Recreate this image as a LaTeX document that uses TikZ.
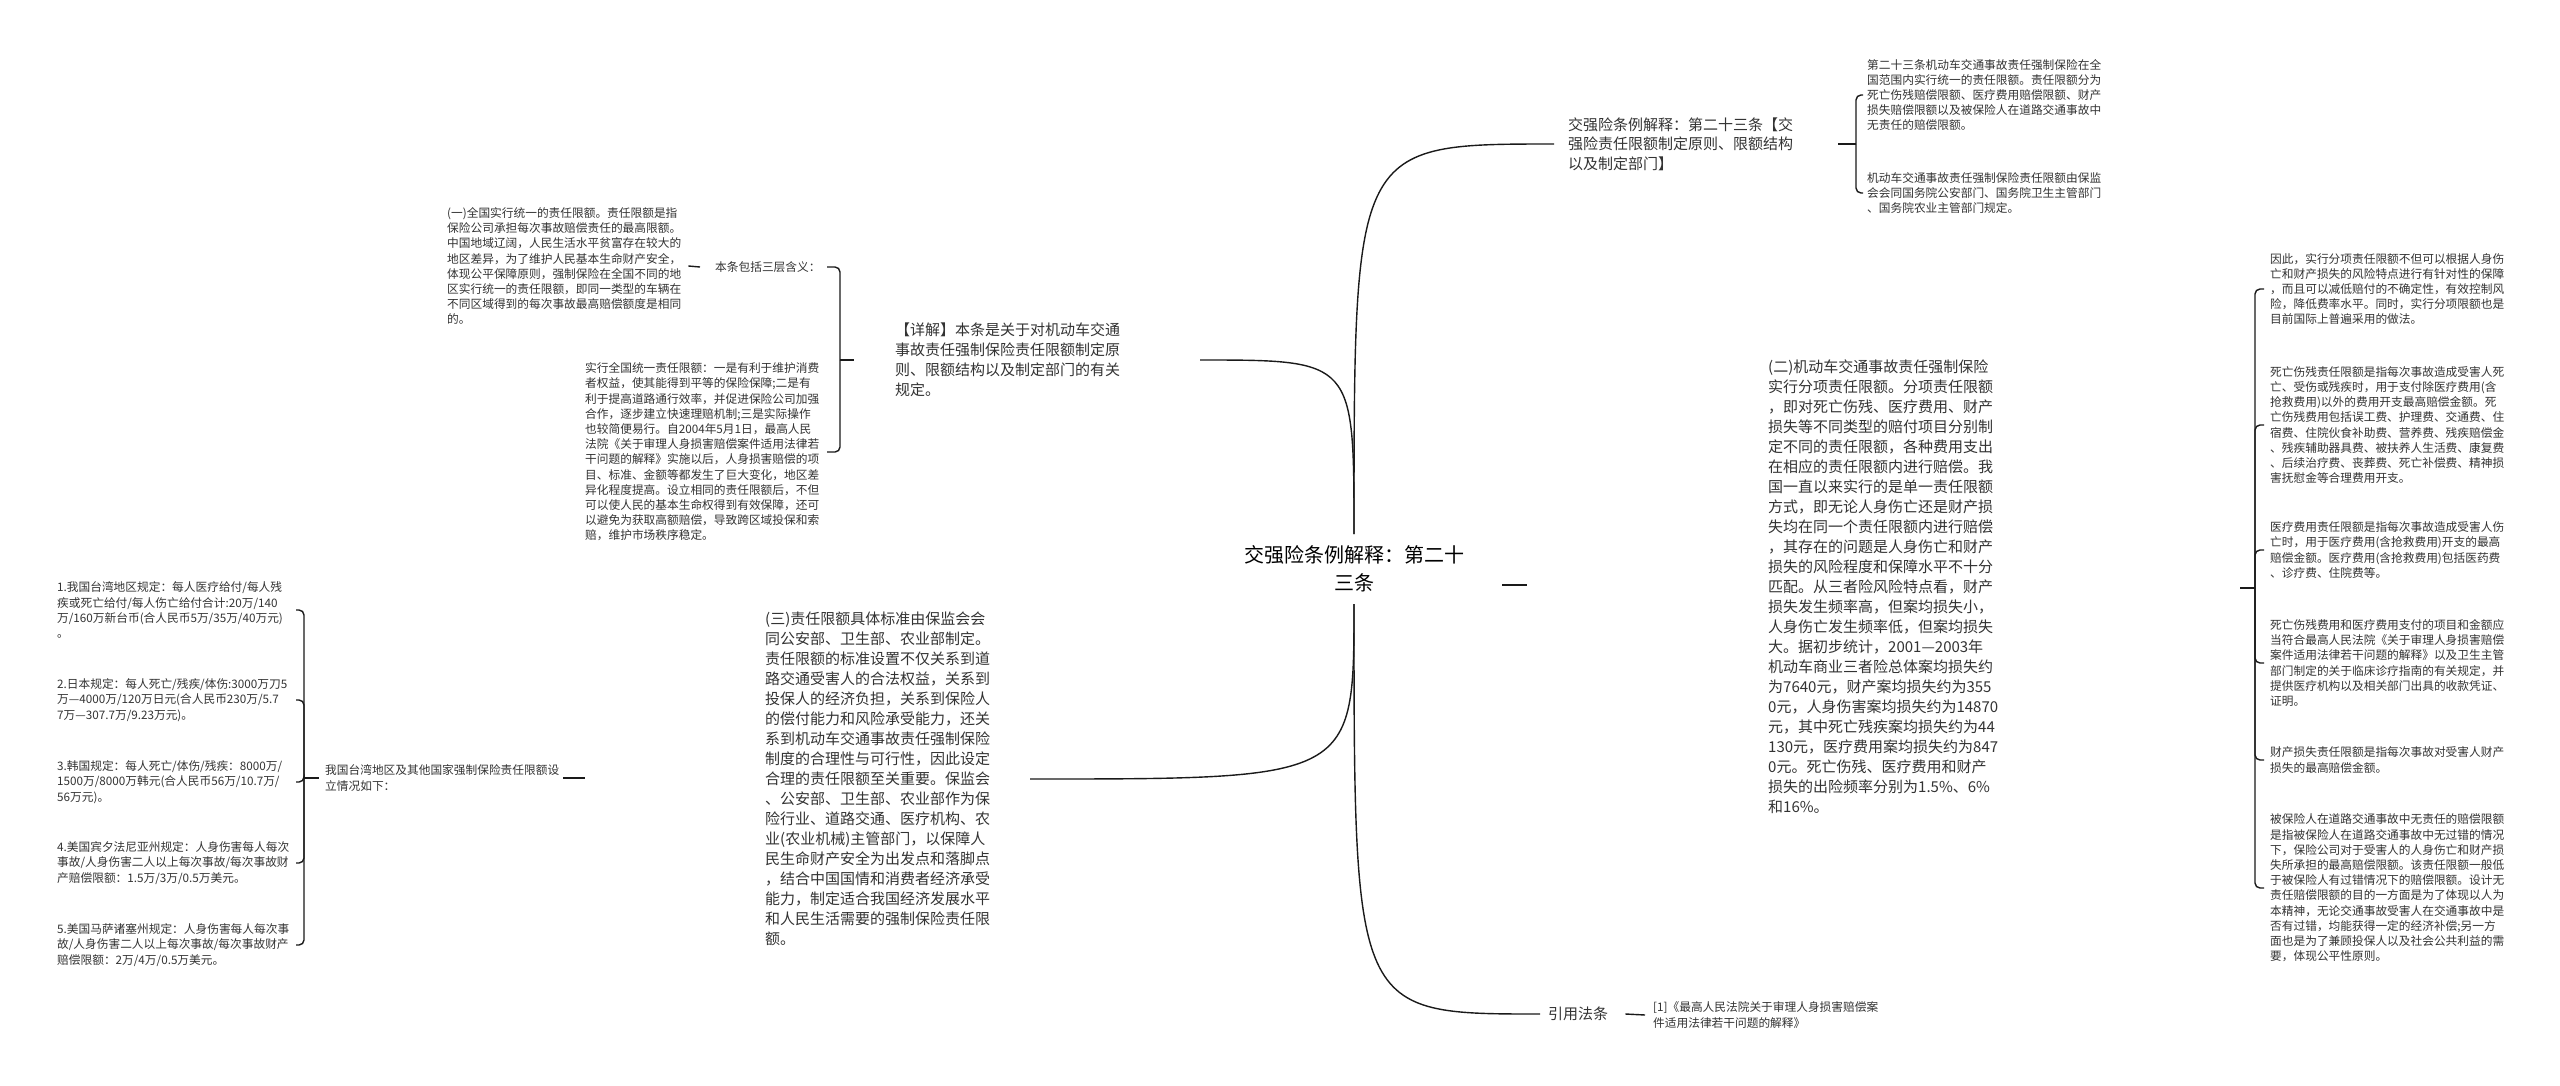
\documentclass[tikz,border=0pt]{standalone}
\usepackage{fontspec}
\setmainfont{Noto Sans CJK SC}
\definecolor{ink}{HTML}{333333}
\definecolor{wire}{HTML}{1A1A1A}
\begin{document}
\begin{tikzpicture}[x=1pt, y=-1pt,
    small/.style={font=\fontsize{11.7}{15.2}\selectfont, text=ink, align=left, anchor=west, inner sep=0pt},
    mid/.style={font=\fontsize{15}{20}\selectfont, text=ink, align=left, anchor=west, inner sep=0pt},
    link/.style={draw=wire, line width=1.4pt},
    hook/.style={link, rounded corners=5pt}]
    \useasboundingbox[fill=white] (0,0) rectangle (2560,1085);

    % Root
    \node[font=\fontsize{20}{28}\selectfont, text=black, align=center, inner sep=0pt] (root) at (1354,569) {交强险条例解释：第二十\\三条};
    \coordinate (root-up) at (1354,534);
    \coordinate (root-down) at (1354,604);

    % Heading, top right
    \node[mid, font=\fontsize{15}{19.5}\selectfont] (head) at (1568,144) {交强险条例解释：第二十三条【交\\强险责任限额制定原则、限额结构\\以及制定部门】};
    \node[small] (note1) at (1867,95) {第二十三条机动车交通事故责任强制保险在全\\国范围内实行统一的责任限额。责任限额分为\\死亡伤残赔偿限额、医疗费用赔偿限额、财产\\损失赔偿限额以及被保险人在道路交通事故中\\无责任的赔偿限额。};
    \node[small] (note2) at (1867,193) {机动车交通事故责任强制保险责任限额由保监\\会会同国务院公安部门、国务院卫生主管部门\\、国务院农业主管部门规定。};
    \draw[link] (root-up) .. controls (root-up |- head) .. ([xshift=-14pt]head.west);
    \coordinate (head-b) at (1856,144);
    \draw[link] (head-b) -- ++(-18,0);
    \foreach \n in {note1,note2}
        \draw[hook] (head-b) |- ([xshift=-4pt]\n.west);

    % Detail, top left
    \node[mid] (detail) at (895,360) {【详解】本条是关于对机动车交通\\事故责任强制保险责任限额制定原\\则、限额结构以及制定部门的有关\\规定。};
    \coordinate (detail-r) at (1200,360);
    \draw[link] (root-up) .. controls (root-up |- detail-r) .. (detail-r);
    \node[small] (levels) at (715,267) {本条包括三层含义：};
    \node[small] (one) at (447,266) {(一)全国实行统一的责任限额。责任限额是指\\保险公司承担每次事故赔偿责任的最高限额。\\中国地域辽阔，人民生活水平贫富存在较大的\\地区差异，为了维护人民基本生命财产安全，\\体现公平保障原则，强制保险在全国不同的地\\区实行统一的责任限额，即同一类型的车辆在\\不同区域得到的每次事故最高赔偿额度是相同\\的。};
    \node[small] (unify) at (585,452) {实行全国统一责任限额：一是有利于维护消费\\者权益，使其能得到平等的保险保障;二是有\\利于提高道路通行效率，并促进保险公司加强\\合作，逐步建立快速理赔机制;三是实际操作\\也较简便易行。自2004年5月1日，最高人民\\法院《关于审理人身损害赔偿案件适用法律若\\干问题的解释》实施以后，人身损害赔偿的项\\目、标准、金额等都发生了巨大变化，地区差\\异化程度提高。设立相同的责任限额后，不但\\可以使人民的基本生命权得到有效保障，还可\\以避免为获取高额赔偿，导致跨区域投保和索\\赔，维护市场秩序稳定。};
    \coordinate (detail-b) at (840,360);
    \coordinate (detail-x) at (827,0);
    \draw[link] (detail-b) -- ++(14,0);
    \foreach \n in {levels,unify}
        \draw[hook] (detail-b) |- (\n.west -| detail-x);
    \draw[link] ([xshift=7pt]one.east) -- ([xshift=-15pt]levels.west);

    % Limits by item, right
    \node[mid] (two) at (1768,587) {(二)机动车交通事故责任强制保险\\实行分项责任限额。分项责任限额\\，即对死亡伤残、医疗费用、财产\\损失等不同类型的赔付项目分别制\\定不同的责任限额，各种费用支出\\在相应的责任限额内进行赔偿。我\\国一直以来实行的是单一责任限额\\方式，即无论人身伤亡还是财产损\\失均在同一个责任限额内进行赔偿\\，其存在的问题是人身伤亡和财产\\损失的风险程度和保障水平不十分\\匹配。从三者险风险特点看，财产\\损失发生频率高，但案均损失小，\\人身伤亡发生频率低，但案均损失\\大。据初步统计，2001—2003年\\机动车商业三者险总体案均损失约\\为7640元，财产案均损失约为355\\0元，人身伤害案均损失约为14870\\元，其中死亡残疾案均损失约为44\\130元，医疗费用案均损失约为847\\0元。死亡伤残、医疗费用和财产\\损失的出险频率分别为1.5\%、6\%\\和16\%。};
    \coordinate (two-l) at (1502,585);
    \draw[link] (two-l) -- ++(25,0);
    \node[small] (r1) at (2270,289) {因此，实行分项责任限额不但可以根据人身伤\\亡和财产损失的风险特点进行有针对性的保障\\，而且可以减低赔付的不确定性，有效控制风\\险，降低费率水平。同时，实行分项限额也是\\目前国际上普遍采用的做法。};
    \node[small] (r2) at (2270,425) {死亡伤残责任限额是指每次事故造成受害人死\\亡、受伤或残疾时，用于支付除医疗费用(含\\抢救费用)以外的费用开支最高赔偿金额。死\\亡伤残费用包括误工费、护理费、交通费、住\\宿费、住院伙食补助费、营养费、残疾赔偿金\\、残疾辅助器具费、被扶养人生活费、康复费\\、后续治疗费、丧葬费、死亡补偿费、精神损\\害抚慰金等合理费用开支。};
    \node[small] (r3) at (2270,550) {医疗费用责任限额是指每次事故造成受害人伤\\亡时，用于医疗费用(含抢救费用)开支的最高\\赔偿金额。医疗费用(含抢救费用)包括医药费\\、诊疗费、住院费等。};
    \node[small] (r4) at (2270,663) {死亡伤残费用和医疗费用支付的项目和金额应\\当符合最高人民法院《关于审理人身损害赔偿\\案件适用法律若干问题的解释》以及卫生主管\\部门制定的关于临床诊疗指南的有关规定，并\\提供医疗机构以及相关部门出具的收款凭证、\\证明。};
    \node[small] (r5) at (2270,760) {财产损失责任限额是指每次事故对受害人财产\\损失的最高赔偿金额。};
    \node[small] (r6) at (2270,888) {被保险人在道路交通事故中无责任的赔偿限额\\是指被保险人在道路交通事故中无过错的情况\\下，保险公司对于受害人的人身伤亡和财产损\\失所承担的最高赔偿限额。该责任限额一般低\\于被保险人有过错情况下的赔偿限额。设计无\\责任赔偿限额的目的一方面是为了体现以人为\\本精神，无论交通事故受害人在交通事故中是\\否有过错，均能获得一定的经济补偿;另一方\\面也是为了兼顾投保人以及社会公共利益的需\\要，体现公平性原则。};
    \coordinate (two-b) at (2255,588);
    \coordinate (two-x) at (2264,0);
    \draw[link] (two-b) -- ++(-15,0);
    \foreach \n in {r1,r2,r3,r4,r5,r6}
        \draw[hook] (two-b) |- (\n.west -| two-x);

    % Standards, bottom left
    \node[mid] (three) at (765,779) {(三)责任限额具体标准由保监会会\\同公安部、卫生部、农业部制定。\\责任限额的标准设置不仅关系到道\\路交通受害人的合法权益，关系到\\投保人的经济负担，关系到保险人\\的偿付能力和风险承受能力，还关\\系到机动车交通事故责任强制保险\\制度的合理性与可行性，因此设定\\合理的责任限额至关重要。保监会\\、公安部、卫生部、农业部作为保\\险行业、道路交通、医疗机构、农\\业(农业机械)主管部门，以保障人\\民生命财产安全为出发点和落脚点\\，结合中国国情和消费者经济承受\\能力，制定适合我国经济发展水平\\和人民生活需要的强制保险责任限\\额。};
    \coordinate (three-r) at (1030,779);
    \draw[link] (root-down) .. controls (root-down |- three-r) .. (three-r);
    \node[small] (abroad) at (325,778) {我国台湾地区及其他国家强制保险责任限额设\\立情况如下：};
    \draw[link] ([xshift=4pt]abroad.east) -- ++(22,0);
    \node[small] (l1) at (57,610) {1.我国台湾地区规定：每人医疗给付/每人残\\疾或死亡给付/每人伤亡给付合计:20万/140\\万/160万新台币(合人民币5万/35万/40万元)\\。};
    \node[small] (l2) at (57,700) {2.日本规定：每人死亡/残疾/体伤:3000万刀5\\万—4000万/120万日元(合人民币230万/5.7\\7万—307.7万/9.23万元)。};
    \node[small] (l3) at (57,782) {3.韩国规定：每人死亡/体伤/残疾：8000万/\\1500万/8000万韩元(合人民币56万/10.7万/\\56万元)。};
    \node[small] (l4) at (57,863) {4.美国宾夕法尼亚州规定：人身伤害每人每次\\事故/人身伤害二人以上每次事故/每次事故财\\产赔偿限额：1.5万/3万/0.5万美元。};
    \node[small] (l5) at (57,945) {5.美国马萨诸塞州规定：人身伤害每人每次事\\故/人身伤害二人以上每次事故/每次事故财产\\赔偿限额：2万/4万/0.5万美元。};
    \coordinate (abroad-b) at (304,778);
    \coordinate (abroad-x) at (296,0);
    \draw[link] (abroad-b) -- ([xshift=-6pt]abroad.west);
    \foreach \n in {l1,l2,l3,l4,l5}
        \draw[hook] (abroad-b) |- (\n.west -| abroad-x);

    % Cited law, bottom
    \node[mid] (cite) at (1548,1014) {引用法条};
    \node[small] (ref) at (1653,1015) {[1]《最高人民法院关于审理人身损害赔偿案\\件适用法律若干问题的解释》};
    \draw[link] (root-down) .. controls (root-down |- cite) .. ([xshift=-8pt]cite.west);
    \draw[link] ([xshift=17pt]cite.east) -- ([xshift=-8pt]ref.west);
\end{tikzpicture}
\end{document}
